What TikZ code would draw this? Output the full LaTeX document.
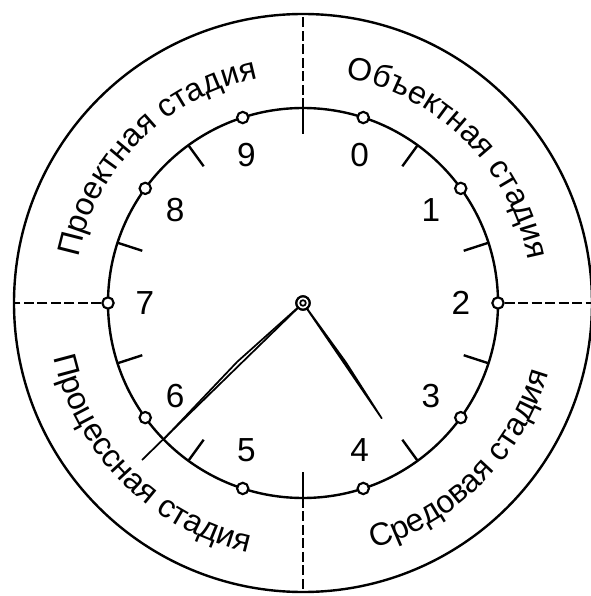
\documentclass[tikz,border=0pt]{standalone}
\usepackage{fontspec}
\setmainfont{Liberation Sans}
\usetikzlibrary{decorations.text}

\begin{document}
\begin{tikzpicture}[x=.75pt,y=.75pt,
    ring/.style={draw=black, line width=1.8pt},
    divider/.style={draw=black, line width=1.8pt, dash pattern=on 7.5pt off 2.6pt},
    tickmark/.style={draw=black, line width=1.8pt},
    knob/.style={circle, draw=black, fill=white, line width=1.6pt,
      inner sep=0pt, minimum size=8.5pt},
    digit/.style={font=\fontsize{25}{27}\selectfont},
    hand/.style={draw=black, line width=1.3pt, line join=round},
    stage/.style={decorate, decoration={text along path, text align=center,
      text={|\fontsize{24}{26}\selectfont|#1}}}]
  \useasboundingbox (-303,-293) rectangle (287,303);

  % rings
  \path[ring] (0,0) circle (289);
  \path[ring] (0,0) circle (195);

  % stage names in the band
  \path[stage=Проектная стадия] (180:229) arc[start angle=180, end angle=90, radius=229];
  \path[stage=Объектная стадия] (90:229) arc[start angle=90, end angle=0, radius=229];
  \path[stage=Процессная стадия] (180:255) arc[start angle=180, end angle=270, radius=255];
  \path[stage=Средовая стадия] (270:255) arc[start angle=270, end angle=360, radius=255];

  % tick marks between the stops
  \foreach \a in {18,54,...,342}
    \draw[tickmark] (\a:195) -- (\a:169);

  % stops and digits
  \foreach \k in {0,...,9}
    \node[knob] (p\k) at ({(2-\k)*36}:195) {};
  \foreach \k/\a in {0/69,1/36,2/0,3/-36,4/-69,5/-111,6/-144,7/180,8/144,9/111}
    \node[digit] (d\k) at (\a:158) {\k};

  % quadrant dividers
  \coordinate (rimE) at (0:289);
  \coordinate (rimN) at (90:289);
  \coordinate (rimW) at (180:289);
  \coordinate (rimS) at (270:289);
  \coordinate (innerN) at (90:195);
  \coordinate (innerS) at (270:195);
  \draw[divider] (p2) -- (rimE);
  \draw[divider] (p7) -- (rimW);
  \draw[divider] (innerN) -- (rimN);
  \draw[divider] (innerS) -- (rimS);

  % hands
  \coordinate (hourTip) at (78.7,-115.3);
  \coordinate (hourSide) at (42.9,-59.3);
  \coordinate (minTip) at (-161,-157);
  \coordinate (minMeet) at (-140,-137);
  \coordinate (minSide) at (-65.8,-58.8);
  \node[knob, minimum size=10pt] (hub) at (0,0) {};
  \draw[hand] (hub.center) -- (hourTip) -- (hourSide) -- cycle;
  \draw[hand] (hub.center) -- (minTip);
  \draw[hand] (hub.center) -- (minSide) -- (minMeet);
  \node[knob, minimum size=10pt] at (hub) {};
  \draw[line width=1.3pt] (hub.center) circle (2.8);
\end{tikzpicture}
\end{document}
